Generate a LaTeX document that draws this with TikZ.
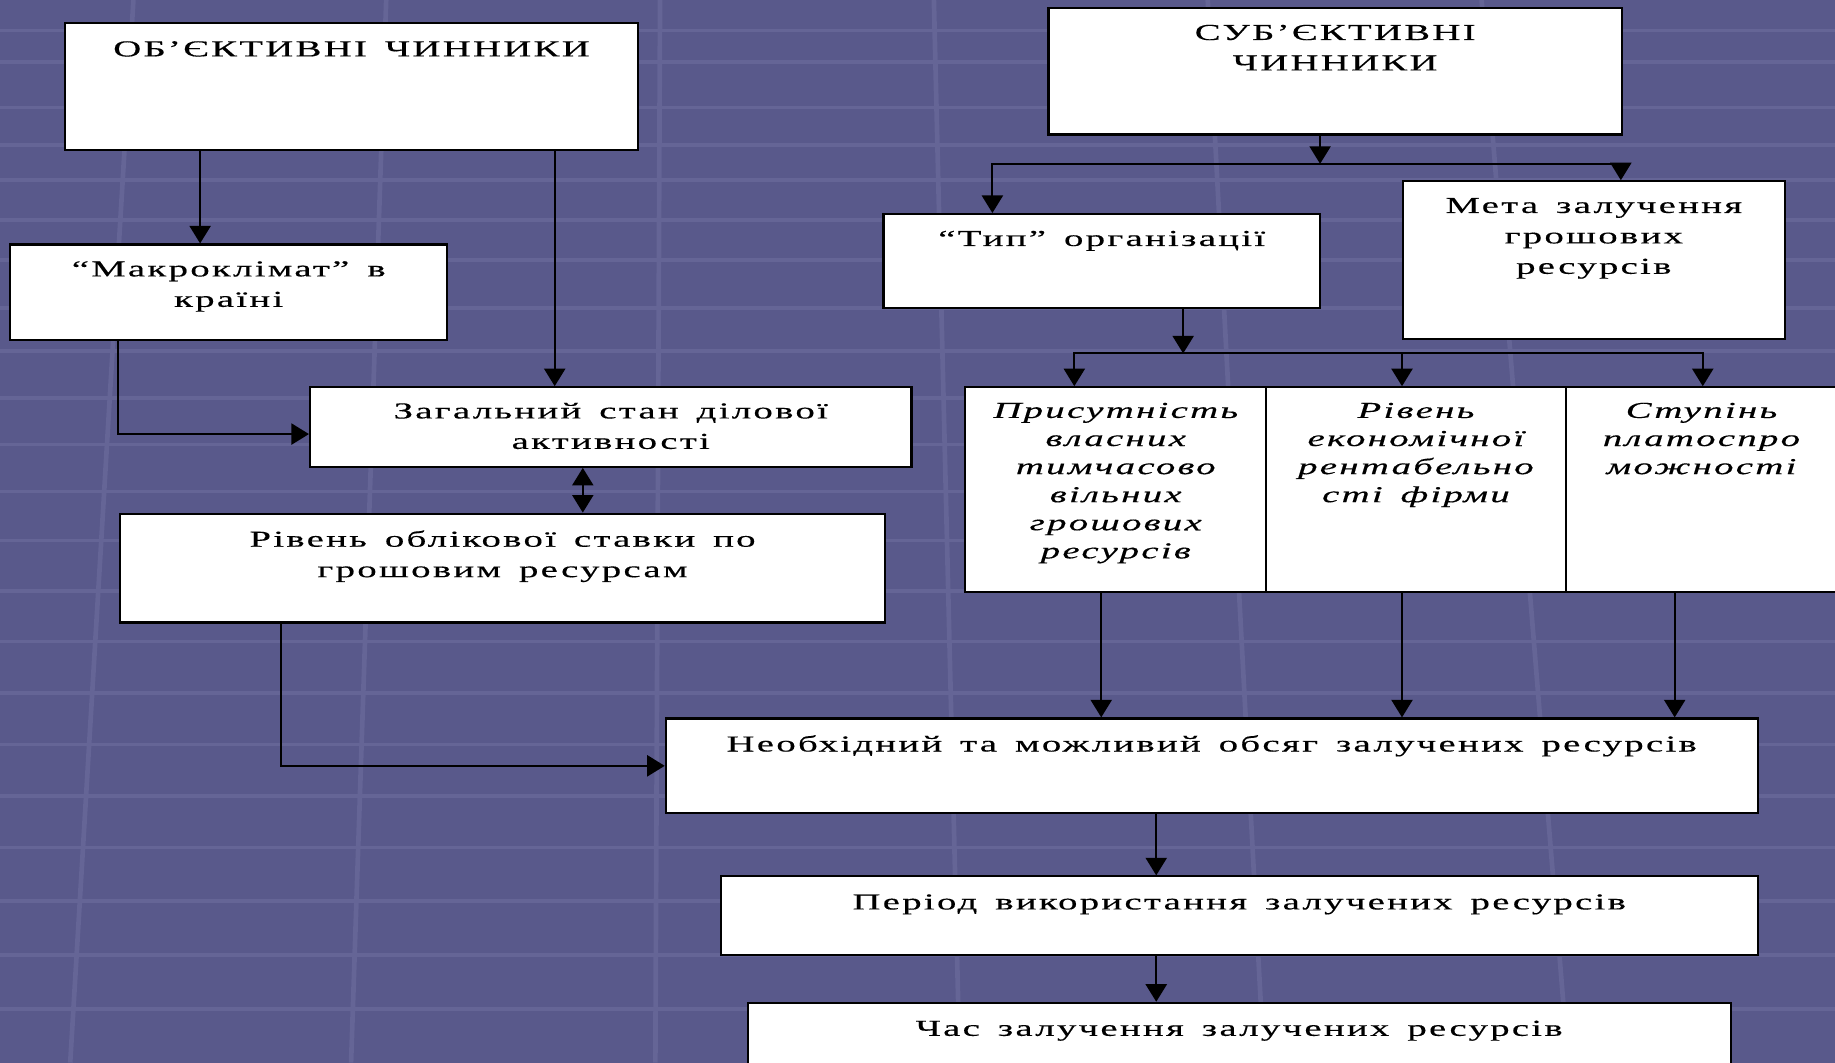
\documentclass[tikz,border=0pt]{standalone}
\usepackage{fontspec}
\setmainfont{Liberation Serif}[FakeStretch=1.7,LetterSpace=10,WordSpace=1.5,FakeBold=0.4]
\usepackage{xcolor}
\usepackage{tikz}
\usetikzlibrary{positioning}
\usetikzlibrary{arrows.meta}

\definecolor{slidebg}{RGB}{89,89,139}
\definecolor{slideline}{RGB}{101,101,150}

\begin{document}
\begin{tikzpicture}[x=1pt,y=-1pt,
  box/.style={draw=black,fill=white,line width=1.8pt,inner sep=0pt,anchor=north west},
  txt/.style={inner sep=0pt,align=center,font=\fontsize{19.5}{26}\selectfont},
  itxt/.style={txt,font=\fontsize{19.5}{24}\selectfont\itshape},
  arr/.style={line width=1.8pt,-{Triangle[width=18pt,length=15pt]}},
  dbl/.style={line width=1.8pt,{Triangle[width=18pt,length=15pt]}-{Triangle[width=18pt,length=15pt]}},
  stripe/.style={slideline,line width=4pt}]
\clip (0,0) rectangle (1568,908);
\fill[slidebg] (0,0) rectangle (1568,908);
% background pattern
\foreach \y in {26,53,92,124,154,188,222,263,300,340,380,420,462,505,548,592,636,680,724,770,816,862}
  \draw[stripe,line width=3pt] (0,\y) -- (1568,\y);
\foreach \x in {60,300,560,820,1080,1340}
  \draw[stripe] (\x,908) -- ({\x*0.9+60},0);

% boxes
\node[box,minimum width=489pt,minimum height=108pt] (obj)    at (55,19)   {};
\node[box,minimum width=490pt,minimum height=108pt] (subj)   at (895,6)   {};
\node[box,minimum width=373pt,minimum height=82pt]  (macro)  at (8,208)   {};
\node[box,minimum width=514pt,minimum height=68pt]  (zag)    at (264,330) {};
\node[box,minimum width=653pt,minimum height=93pt]  (oblik)  at (102,438) {};
\node[box,minimum width=373pt,minimum height=80pt]  (typ)    at (754,182) {};
\node[box,minimum width=326pt,minimum height=135pt] (meta)   at (1198,154) {};
\node[box,minimum width=257pt,minimum height=175pt] (pris)   at (824,330) {};
\node[box,minimum width=256pt,minimum height=175pt] (riv)    at (1081,330) {};
\node[box,minimum width=232pt,minimum height=175pt] (stup)   at (1337,330) {};
\node[box,minimum width=933pt,minimum height=81pt]  (neob)   at (568,613) {};
\node[box,minimum width=886pt,minimum height=67pt]  (period) at (615,748) {};
\node[box,minimum width=840pt,minimum height=70pt]  (chas)   at (638,856) {};

% texts
\node[txt,below=16pt of obj.north]    (objt)    {ОБ’ЄКТИВНІ ЧИННИКИ};
\node[txt,below=15pt of subj.north]   (subjt)   {СУБ’ЄКТИВНІ\\ЧИННИКИ};
\node[txt,below=15pt of macro.north]  (macrot)  {“Макроклімат” в\\країні};
\node[txt,below=14pt of zag.north]    (zagt)    {Загальний стан ділової\\активності};
\node[txt,below=15pt of oblik.north]  (oblikt)  {Рівень облікової ставки по\\грошовим ресурсам};
\node[txt,below=15pt of typ.north]    (typt)    {“Тип” організації};
\node[txt,below=15pt of meta.north]   (metat)   {Мета залучення\\грошових\\ресурсів};
\node[itxt,below=14pt of pris.north]  (prist)   {Присутність\\власних\\тимчасово\\вільних\\грошових\\ресурсів};
\node[itxt,below=14pt of riv.north]   (rivt)    {Рівень\\економічної\\рентабельно\\сті фірми};
\node[itxt,below=14pt of stup.north]  (stupt)   {Ступінь\\платоспро\\можності};
\node[txt,below=15pt of neob.north]   (neobt)   {Необхідний та можливий обсяг залучених ресурсів};
\node[txt,below=16pt of period.north] (periodt) {Період використання залучених ресурсів};
\node[txt,below=16pt of chas.north]   (chast)   {Час залучення залучених ресурсів};

% left branch
\draw[arr] (171,0 |- obj.south) -- (171,0 |- macro.north);
\draw[arr] (474,0 |- obj.south) -- (474,0 |- zag.north);
\draw[arr] (101,0 |- macro.south) |- ([yshift=-6pt]zag.west);
\draw[dbl] (498,0 |- zag.south) -- (498,0 |- oblik.north);
\draw[arr] (240,0 |- oblik.south) |- (neob.west);

% right branch
\coordinate (split1) at (1128,140);
\draw[arr] (1128,0 |- subj.south) -- (split1);
\draw[arr] (split1) -| (848,0 |- typ.north);
\draw[arr] (split1) -| (1385,0 |- meta.north);
\coordinate (split2) at (1011,302);
\draw[arr] (1011,0 |- typ.south) -- (split2);
\draw[arr] (split2) -| (918,0 |- pris.north);
\draw[arr] (split2) -| (1198,0 |- riv.north);
\draw[arr] (split2) -| (1455,0 |- stup.north);

% to the bottom
\draw[arr] (941,0 |- pris.south) -- (941,0 |- neob.north);
\draw[arr] (1198,0 |- riv.south) -- (1198,0 |- neob.north);
\draw[arr] (1431,0 |- stup.south) -- (1431,0 |- neob.north);
\draw[arr] (988,0 |- neob.south) -- (988,0 |- period.north);
\draw[arr] (988,0 |- period.south) -- (988,0 |- chas.north);
\end{tikzpicture}
\end{document}
